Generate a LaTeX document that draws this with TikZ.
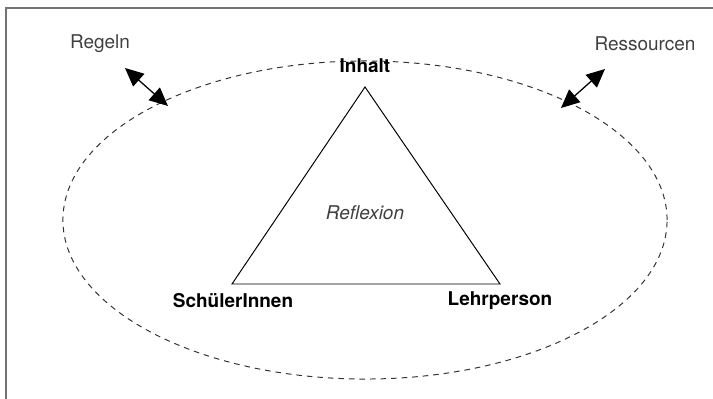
\documentclass[tikz,border=0pt]{standalone}
\usepackage{fontspec}
\setmainfont{TeX Gyre Heros}
\usetikzlibrary{arrows.meta}

\begin{document}
\begin{tikzpicture}[x=0.025cm,y=-0.025cm,line width=0.7pt,>={Triangle[length=4.6mm,width=4.2mm]},
  pole/.style={font=\fontsize{13.5}{16}\selectfont\bfseries},
  aussen/.style={text=black!75,font=\fontsize{13.5}{16}\selectfont}]
  \useasboundingbox (0,0) rectangle (713,399);
  % rahmen
  \draw[black!55,line width=0.9pt] (6,399)--(6,8)--(713,8);
  % umfeld (ellipse)
  \draw[black!80,line width=0.7pt,dash pattern=on 4pt off 3.5pt] (365,220) ellipse [x radius=7.55cm,y radius=3.975cm];
  % dreieck
  \coordinate (top) at (365,87); \coordinate (li) at (232,284); \coordinate (re) at (500,284);
  \draw (top)--(li)--(re)--cycle;
  \node[pole] (inhalt) at (365,66){Inhalt};
  \node[pole] (schueler) at (233,301){SchülerInnen};
  \node[pole] (lehrer) at (500,301){Lehrperson};
  \node[aussen,font=\fontsize{13.5}{16}\selectfont\itshape] (reflexion) at (365,213){Reflexion};
  % regeln und ressourcen
  \node[aussen] (regeln) at (100,44){Regeln};
  \node[aussen] (ressourcen) at (645,44){Ressourcen};
  \coordinate (r1) at (125,68); \coordinate (r2) at (168,106);
  \coordinate (s1) at (561,108); \coordinate (s2) at (605,69);
  \draw[<->,line width=0.9pt] (r1)--(r2);
  \draw[<->,line width=0.9pt] (s1)--(s2);
\end{tikzpicture}
\end{document}
